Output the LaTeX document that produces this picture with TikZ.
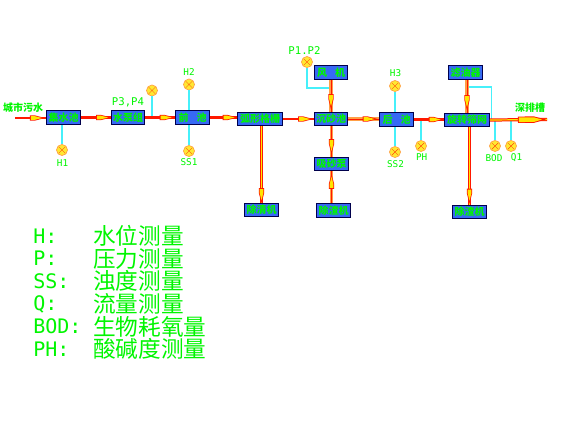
\documentclass[tikz,border=0pt]{standalone}
\usepackage{fontspec}
\setmainfont{Noto Sans CJK SC}
\newfontfamily\latinf{DejaVu Sans Mono}
\usetikzlibrary{decorations.markings}
\definecolor{boxblue}{RGB}{55,105,245}
\definecolor{lab}{RGB}{0,245,0}
\definecolor{pipered}{RGB}{255,24,0}
\definecolor{pipeyel}{RGB}{255,230,0}
\definecolor{pipeor}{RGB}{255,160,70}
\definecolor{sig}{RGB}{70,240,250}
\definecolor{dial}{RGB}{255,232,50}
\tikzset{
 x=0.75pt,y=-0.75pt,
 unit/.style={draw=black!70!blue,line width=0.65pt,fill=boxblue,text=lab,minimum height=10pt,inner sep=0pt,font=\fontsize{7.5}{7.5}\bfseries},
 w33/.style={minimum width=25pt},
 w44/.style={minimum width=33.5pt},
 gauge/.style={circle,draw=pipeor,line width=0.5pt,fill=dial,minimum size=8.3pt,inner sep=0pt,
   path picture={\draw[pipered,line width=.25pt] ([shift={(-2.5pt,-2.5pt)}]path picture bounding box.center)--([shift={(2.5pt,2.5pt)}]path picture bounding box.center)
   ([shift={(2.5pt,-2.5pt)}]path picture bounding box.center)--([shift={(-2.5pt,2.5pt)}]path picture bounding box.center);}},
 tag/.style={text=lab,inner sep=0pt,font=\fontsize{7.5}{7.5}\bfseries},
 ltag/.style={text=lab,inner sep=0pt,font=\fontsize{7}{7}\latinf},
 sigline/.style={sig,line width=0.8pt},
 pipe/.style={pipered,line width=2pt},
 dpipe/.style={pipered,line width=2.4pt,postaction={draw=pipeyel,line width=0.9pt}},
 opipe/.style={pipeor,line width=2.4pt,postaction={draw=pipered,line width=0.6pt}},
 flowmark/.style={postaction={decorate,decoration={markings,mark=at position #1 with {
    \fill[pipered] (-7,-2.6)--(-2,-2.6)--(8,0)--(-2,2.6)--(-7,2.6)--cycle;
    \fill[pipeyel] (-6,-1.8)--(-2,-1.8)--(5,0)--(-2,1.8)--(-6,1.8)--cycle;}}}},
 bigmark/.style={postaction={decorate,decoration={markings,mark=at position #1 with {
    \fill[pipered] (-9,-3.2)--(7,-3.2)--(19,0)--(7,3.2)--(-9,3.2)--cycle;
    \fill[pipeyel] (-8,-2.3)--(7,-2.3)--(15,0)--(7,2.3)--(-8,2.3)--cycle;}}}},
}
\begin{document}
\begin{tikzpicture}
\useasboundingbox (0,0) rectangle (577,433);
% units
\node[unit,w33] (jishui) at (63.5,117.5) {集水池};
\node[unit,w33] (beng) at (128,117.5) {水泵组};
\node[unit,w33] (qian) at (192.5,117.5) {前\hspace{.8em}池};
\node[unit,w44] (hu) at (260,119) {弧形格栅};
\node[unit,w33] (chen) at (331,119) {沉砂池};
\node[unit,w33] (feng) at (331,72.5) {风\hspace{.8em}机};
\node[unit,w33] (xi) at (331.5,164) {吸砂泵};
\node[unit,w33] (cz1) at (261.5,210) {除清机};
\node[unit,w33] (cz2) at (333.5,210.5) {除渣机};
\node[unit,w33] (hou) at (396.5,119.5) {后\hspace{.8em}池};
\node[unit,w44] (xuan) at (467,120) {旋转筛网};
\node[unit,w33] (lv) at (465.5,72.5) {滤油器};
\node[unit,w33] (cz3) at (469.5,212) {除渣机};
% gauges
\node[gauge] (gH1) at (62,150) {};
\node[gauge] (gP34) at (152,90.5) {};
\node[gauge] (gH2) at (189,84.5) {};
\node[gauge] (gSS1) at (189,151) {};
\node[gauge] (gP12) at (307,62) {};
\node[gauge] (gH3) at (395,86) {};
\node[gauge] (gSS2) at (395,152) {};
\node[gauge] (gPH) at (421,146) {};
\node[gauge] (gBOD) at (495,146) {};
\node[gauge] (gQ1) at (511,146) {};
% free ends
\coordinate (inlet) at (15,118);
\coordinate (outlet) at (547,119.5);
\coordinate (tapP12) at (307,88);
\coordinate (fengd) at (331,88);
\coordinate (lvl) at (468,87);
\coordinate (lvr) at (491.5,87);
\coordinate (lvd) at (491.5,120);
% signal lines
\draw[sigline] (gH1)--(gH1 |- jishui.south);
\draw[sigline] (gP34)--(gP34 |- beng.east);
\draw[sigline] (gH2)--(gH2 |- qian.north);
\draw[sigline] (gSS1)--(gSS1 |- qian.south);
\draw[sigline] (gP12)--(tapP12)--(fengd);
\draw[sigline] (gH3)--(gH3 |- hou.north);
\draw[sigline] (gSS2)--(gSS2 |- hou.south);
\draw[sigline] (gPH)--(gPH |- hou.east);
\draw[sigline] (gBOD)--(gBOD |- xuan.east);
\draw[sigline] (gQ1)--(gQ1 |- xuan.east);
\draw[sigline] (lvl)--(lvr)--(lvd);
% pipes
\draw[pipe,flowmark=0.7] (inlet)--(inlet -| jishui.west);
\draw[pipe,flowmark=0.74] (jishui)--(beng);
\draw[pipe,flowmark=0.71] (beng)--(qian);
\draw[pipe,flowmark=0.72] (qian.east)--(qian.east -| hu.west);
\draw[pipe,flowmark=0.72] (hu)--(chen);
\draw[opipe,flowmark=0.69] (chen.east)--(chen.east -| hou.west);
\draw[pipe,flowmark=0.72] (hou.east)--(hou.east -| xuan.west);
\draw[opipe,flowmark=0.67] (feng)--(chen);
\draw[opipe,flowmark=0.65] (xi.north |- chen.south)--(xi.north);
\draw[opipe,flowmark=0.67] (cz2.north -| xi.south)--(xi.south);
\draw[dpipe,flowmark=0.9] (cz1.north |- hu.south)--(cz1.north);
\draw[opipe,flowmark=0.68] (lv.south -| xuan.north)--(xuan.north);
\draw[dpipe,flowmark=0.88] (cz3.north |- xuan.south)--(cz3.north);
\draw[dpipe,bigmark=0.65] (xuan.east)--(outlet);
% tags
\node[tag] (t0) at (23,107.5) {城市污水};
\node[ltag,font=\fontsize{8}{8}\latinf] (t1) at (128,102.5) {P3,P4};
\node[ltag] (t2) at (189,72) {H2};
\node[ltag] (t3) at (62.5,163) {H1};
\node[ltag] (t4) at (189,162) {SS1};
\node[ltag,font=\fontsize{8}{8}\latinf] (t5) at (304.5,50.5) {P1.P2};
\node[ltag] (t6) at (395.5,72.7) {H3};
\node[ltag] (t7) at (395.5,164) {SS2};
\node[ltag] (t8) at (421.7,157) {PH};
\node[ltag] (t9) at (494,158) {BOD};
\node[ltag] (t10) at (516.5,158) {Q1};
\node[tag] (t11) at (530,107.7) {深排槽};
% legend
\foreach \n/\yy/\lab/\txt in {a/236/H/水位测量,b/258.5/P/压力测量,c/281/SS/浊度测量,d/304/Q/流量测量,e/326.5/BOD/生物耗氧量,f/349/PH/酸碱度测量}{
 \node[text=lab,inner sep=0pt,anchor=west,font=\fontsize{15}{15}\latinf] (k\n) at (33,\yy) {\lab:};
 \node[text=lab,inner sep=0pt,anchor=west,font=\fontsize{17}{17}\selectfont] (v\n) at (93,\yy) {\txt};
}
\end{tikzpicture}
\end{document}
